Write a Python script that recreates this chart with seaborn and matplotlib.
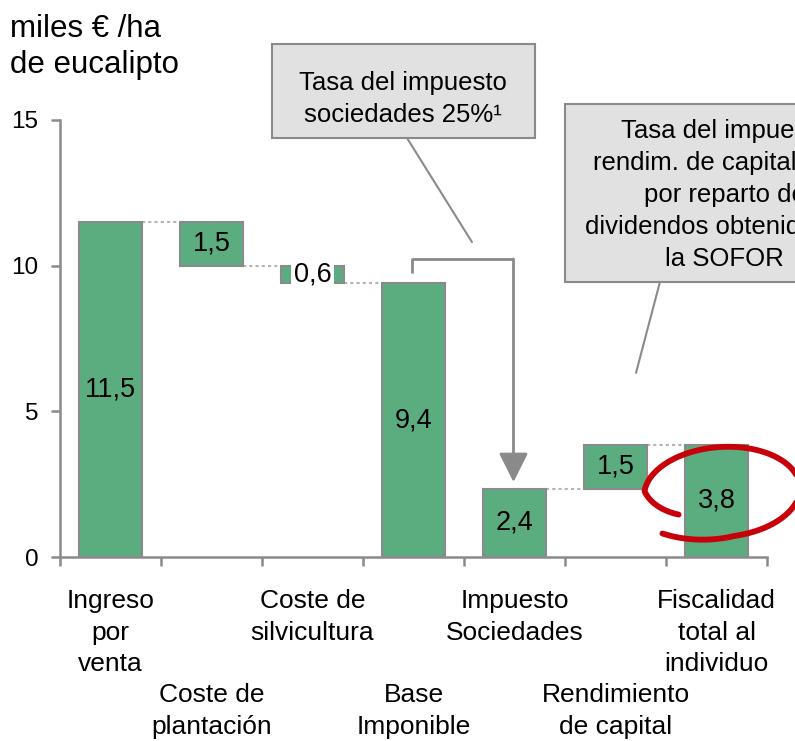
import matplotlib
matplotlib.use("Agg")
import matplotlib.pyplot as plt
import numpy as np
import pandas as pd
import seaborn as sns
from matplotlib.patches import Rectangle

# data (miles EUR / ha)
categories = ["Ingreso\npor\nventa", "Coste de\nplantación", "Coste de\nsilvicultura",
              "Base\nImponible", "Impuesto\nSociedades", "Rendimiento\nde capital",
              "Fiscalidad\ntotal al\nindividuo"]
values = [11.5, -1.5, -0.6, 9.4, 2.35, 1.5, 3.85]
is_total = [True, False, False, True, True, False, True]
value_labels = ["11,5", "1,5", "0,6", "9,4", "2,4", "1,5", "3,8"]
yticks = [0, 5, 10, 15]

note_1 = "Tasa del impuesto\nsociedades 25%¹"
note_2 = "Tasa del impuesto\nrendim. de capital 19%\npor reparto de\ndividendos obtenidos de\nla SOFOR"

# waterfall spans
bottoms, heights, levels = [], [], []
level = 0.0
for v, tot in zip(values, is_total):
    if tot:
        bottoms.append(0.0)
        heights.append(v)
        level = v
    elif v < 0:
        bottoms.append(level + v)
        heights.append(-v)
        level = level + v
    else:
        bottoms.append(level)
        heights.append(v)
        level = level + v
    levels.append(level)

df = pd.DataFrame({"cat": categories, "height": heights})

sns.set_style("white")
plt.rcParams['font.family'] = ['Liberation Sans', 'DejaVu Sans']
plt.rcParams['text.color'] = 'black'

GREEN = "#5bad80"
GREY = "#8a8a8a"
W = 0.62

fig = plt.figure(figsize=(7.95, 7.41), dpi=100)
ax = fig.add_axes([60/795, (741-557)/741, 707/795, 437/741])

sns.barplot(data=df, x="cat", y="height", bottom=bottoms, color=GREEN, saturation=1,
            width=W, edgecolor=GREY, linewidth=1.5, ax=ax)

ax.set_xlim(-0.5, 6.5)
ax.set_ylim(0, 15)
ax.set_yticks(yticks)
ax.set_yticklabels([str(t) for t in yticks], fontsize=17.5)
ax.set_xlabel("")
ax.set_ylabel("")

# two rows of category labels: even ones on the axis, odd ones on a secondary axis
idx = np.arange(len(categories))
ax.set_xticks(idx[::2])
ax.set_xticklabels(categories[::2], fontsize=19, linespacing=1.4)
ax.set_xticks(np.arange(-0.5, len(categories)), minor=True)
sec = ax.secondary_xaxis("bottom")
sec.set_xticks(idx[1::2])
sec.set_xticklabels(categories[1::2], fontsize=19, linespacing=1.4)
sec.spines["bottom"].set_visible(False)
sec.tick_params(axis="x", length=0, pad=91, labelcolor="black")

sns.despine(ax=ax)
for s in ["left", "bottom"]:
    ax.spines[s].set_color(GREY)
    ax.spines[s].set_linewidth(1.8)
ax.tick_params(axis="y", length=6.5, width=1.8, color=GREY, labelcolor="black", pad=9, left=True)
ax.tick_params(axis="x", which="major", length=0, pad=23, labelcolor="black")
ax.tick_params(axis="x", which="minor", length=6.5, width=1.8, color=GREY, bottom=True)

# value labels
texts = ax.bar_label(ax.containers[0], labels=value_labels, label_type="center",
                     fontsize=19.5, color="black")
texts[2].set_bbox(dict(fc="white", ec="none", pad=2))

# connectors
for i in range(len(values) - 1):
    lv = levels[i]
    nb, nt = bottoms[i+1], bottoms[i+1] + heights[i+1]
    if abs(lv - nb) < 1e-9 or abs(lv - nt) < 1e-9:
        ax.plot([i + W/2, i + 1 - W/2], [lv, lv], color="#b5b5b5", lw=1.5,
                ls=(0, (1.5, 1.5)), zorder=0.5)

# bracket arrow from Base Imponible to Impuesto Sociedades
ax.plot([2.99, 2.99, 3.99], [9.75, 10.23, 10.23], color=GREY, lw=2, solid_capstyle="butt")
ax.annotate("", xy=(3.99, 2.57), xytext=(3.99, 10.23),
            arrowprops=dict(arrowstyle="-|>,head_length=0.9,head_width=0.45",
                            mutation_scale=20, color=GREY, lw=2, shrinkA=0, shrinkB=0))

# callout boxes
ax.add_patch(Rectangle((1.6, 14.38), 2.6, 3.23, fc="#e1e1e1", ec=GREY, lw=1.5, clip_on=False))
ax.text(2.9, 15.72, note_1, ha="center", va="center", fontsize=18.5, linespacing=1.43, clip_on=False)
ax.plot([2.936, 3.579], [14.38, 10.81], color=GREY, lw=1.5, clip_on=False)

ax.add_patch(Rectangle((4.5, 9.44), 2.9, 6.11, fc="#e1e1e1", ec=GREY, lw=1.5, clip_on=False))
ax.text(6.08, 12.43, note_2, ha="center", va="center", fontsize=18.5, linespacing=1.43, clip_on=False)
ax.plot([5.44, 5.203], [9.44, 6.32], color=GREY, lw=1.5, clip_on=False)

# hand-drawn red loop around the last bar (in inches)
sweep = np.linspace(0, 351, 300)
th = np.radians(217 - sweep)
r = np.interp(sweep, [0, 45, 300, 351], [0.72, 1.0, 1.0, 1.15])
cx, cy, a, b = 7.22, 2.49, 0.78, 0.45
rot = np.radians(4)
ex = r * a * np.cos(th)
ey = r * b * np.sin(th)
px = cx + ex * np.cos(rot) - ey * np.sin(rot)
py = cy + ex * np.sin(rot) + ey * np.cos(rot)
fig.add_artist(plt.Line2D(px, py, transform=fig.dpi_scale_trans, color="#c8000a",
                          lw=4.2, solid_capstyle="round"))

fig.text(10/795, 1 - 14/741, "miles € /ha\nde eucalipto", ha="left", va="top",
         fontsize=22.5, linespacing=1.25)

fig.savefig("out.png", dpi=100)
